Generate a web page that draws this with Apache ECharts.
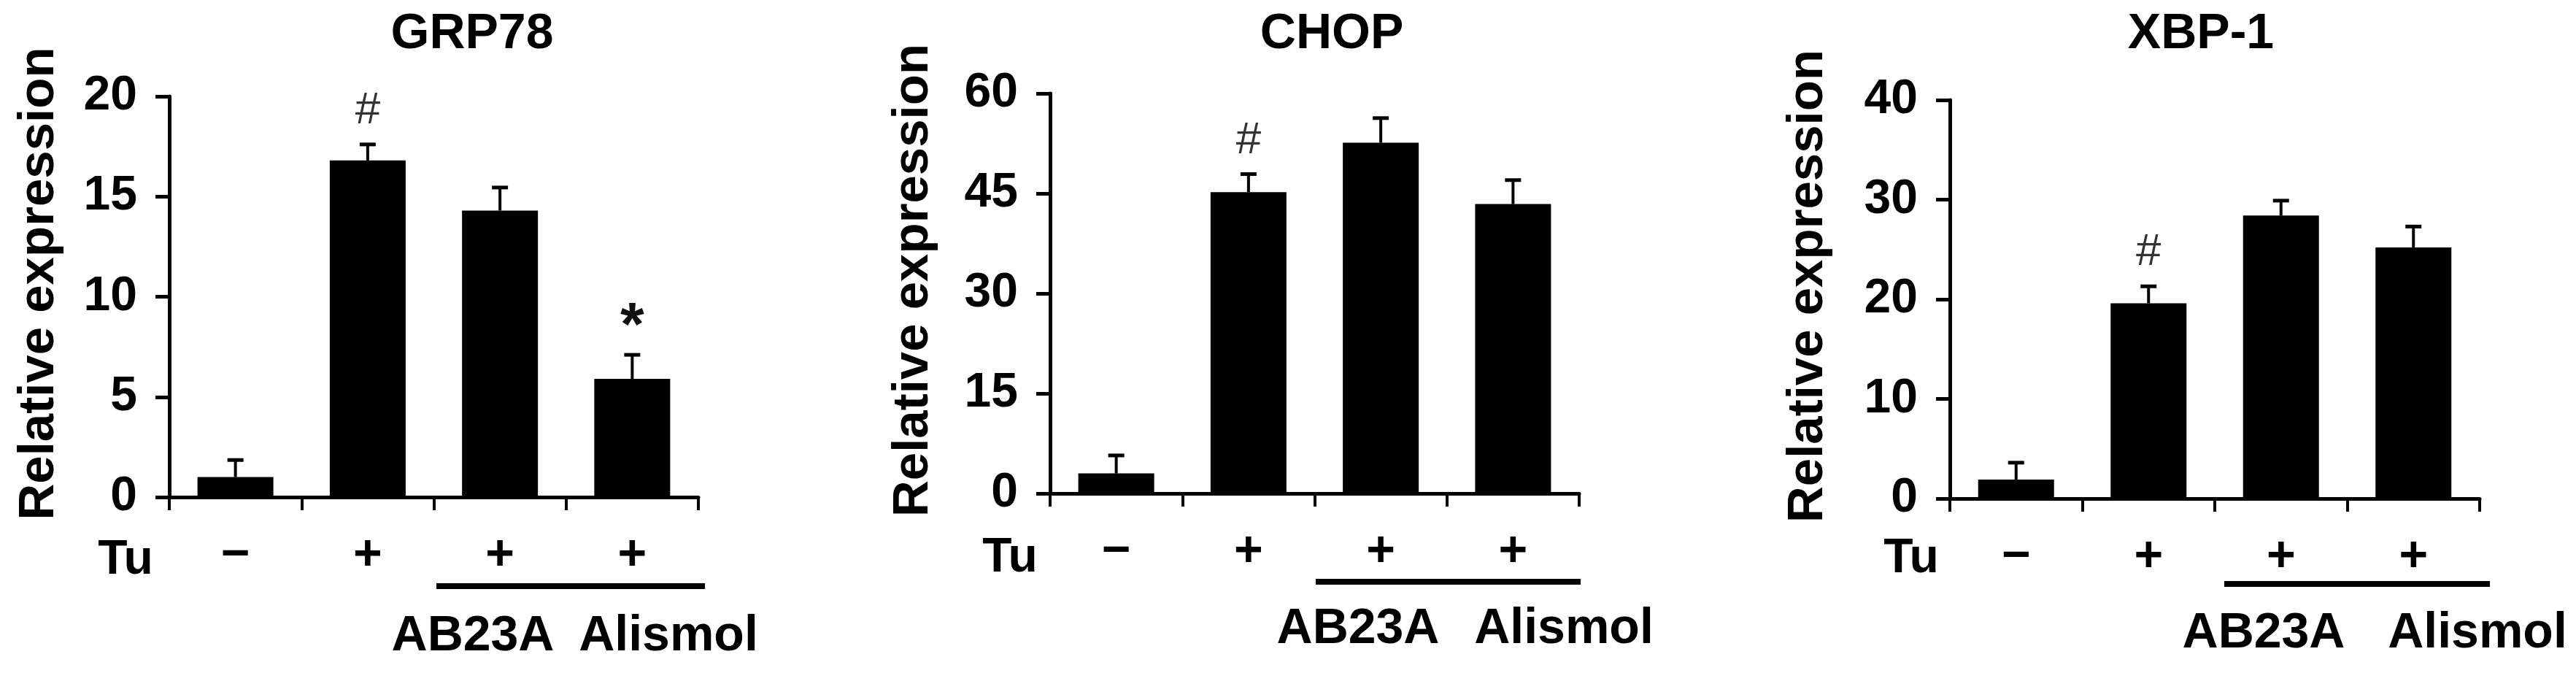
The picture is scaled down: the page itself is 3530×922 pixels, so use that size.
<!DOCTYPE html>
<html>
<head>
<meta charset="utf-8">
<script src="https://cdn.jsdelivr.net/npm/echarts@6/dist/echarts.min.js"></script>
<style>
  html, body { margin: 0; padding: 0; background: #fff; }
  #chart { width: 3530px; height: 922px; }
</style>
</head>
<body>
<div id="chart"></div>
<script>
// data
const panelTitles = ['GRP78', 'CHOP', 'XBP-1'];
const tuSigns = ['\u2212', '+', '+', '+'];
const groupLabels = ['AB23A', 'Alismol'];
const yMax = [20, 60, 40];
const yStep = [5, 15, 10];

const grp78Mean = [1.0, 16.8, 14.3, 5.9];
const grp78Err = [0.85, 0.8, 1.15, 1.2];
const grp78Marks = ['', '#', '', '*'];

const chopMean = [3.0, 45.2, 52.6, 43.4];
const chopErr = [2.7, 2.7, 3.7, 3.6];
const chopMarks = ['', '#', '', ''];

const xbpMean = [1.9, 19.6, 28.4, 25.2];
const xbpErr = [1.7, 1.7, 1.5, 2.1];
const xbpMarks = ['', '#', '', ''];

const means = [grp78Mean, chopMean, xbpMean];
const errs = [grp78Err, chopErr, xbpErr];
const marks = [grp78Marks, chopMarks, xbpMarks];

// layout (pixels)
const font = 'Liberation Sans, Arial, Helvetica, sans-serif';
const grids = [
  { left: 232, top: 132, width: 725, height: 549 },
  { left: 1439, top: 128, width: 725, height: 548 },
  { left: 2672, top: 137, width: 726, height: 546 }
];
const titleX = [647, 1825, 3016];
const nameGaps = [144, 153, 160];
const tuX = [172, 1384, 2619];
const tuY = [768, 765, 766];
const abX = [648, 1861, 3102];
const alX = [916, 2143, 3395];
const groupY = [872, 862, 868];
const ulX = [[598, 966], [1803, 2166], [3048, 3412]];
const ulY = [803, 797, 800];

let chart = echarts.init(document.getElementById('chart'), null, { renderer: 'canvas' });

function errSeries(i) {
  return {
    type: 'custom',
    xAxisIndex: i,
    yAxisIndex: i,
    z: 3,
    data: means[i].map((m, k) => [k, m, errs[i][k]]),
    renderItem: (params, api) => {
      const k = api.value(0), m = api.value(1), e = api.value(2);
      const base = api.coord([k, m]);
      const top = api.coord([k, m + e]);
      const children = [
        { type: 'line', shape: { x1: base[0], y1: base[1], x2: top[0], y2: top[1] }, style: { stroke: '#000', lineWidth: 4 } },
        { type: 'line', shape: { x1: top[0] - 11, y1: top[1], x2: top[0] + 11, y2: top[1] }, style: { stroke: '#000', lineWidth: 5 } }
      ];
      const mk = marks[i][params.dataIndex];
      if (mk === '#') {
        children.push({ type: 'text', x: top[0], y: top[1] - 46, style: { text: '#', fill: '#333', fontSize: 62, fontFamily: font, align: 'center', verticalAlign: 'middle' } });
      } else if (mk === '*') {
        children.push({ type: 'text', x: top[0], y: top[1] - 36, style: { text: '*', fill: '#111', fontSize: 84, fontWeight: 'bold', fontFamily: font, align: 'center', verticalAlign: 'middle' } });
      }
      return { type: 'group', children: children };
    }
  };
}

const graphic = [];
for (let i = 0; i < 3; i++) {
  graphic.push({ type: 'text', x: tuX[i], y: tuY[i], style: { text: 'Tu', fill: '#000', fontSize: 66, fontWeight: 'bold', fontFamily: font, align: 'center', verticalAlign: 'middle' } });
  graphic.push({ type: 'line', shape: { x1: ulX[i][0], y1: ulY[i], x2: ulX[i][1], y2: ulY[i] }, style: { stroke: '#000', lineWidth: 8 } });
  graphic.push({ type: 'text', x: abX[i], y: groupY[i], style: { text: groupLabels[0], fill: '#000', fontSize: 68, fontWeight: 'bold', fontFamily: font, align: 'center', verticalAlign: 'middle' } });
  graphic.push({ type: 'text', x: alX[i], y: groupY[i], style: { text: groupLabels[1], fill: '#000', fontSize: 68, fontWeight: 'bold', fontFamily: font, align: 'center', verticalAlign: 'middle' } });
}

chart.setOption({
  animation: false,
  backgroundColor: '#fff',
  title: panelTitles.map((t, i) => ({
    text: t,
    left: titleX[i],
    top: 13,
    textAlign: 'center',
    padding: 0,
    textStyle: { fontSize: 68, fontWeight: 'bold', color: '#000', fontFamily: font }
  })),
  grid: grids.map(g => Object.assign({ containLabel: false, outerBoundsMode: 'none' }, g)),
  xAxis: grids.map((g, i) => ({
    gridIndex: i,
    type: 'category',
    data: tuSigns,
    axisLine: { show: true, lineStyle: { color: '#000', width: 5 } },
    axisTick: { show: true, length: 18, lineStyle: { color: '#000', width: 4 } },
    axisLabel: { fontSize: 68, fontWeight: 'bold', color: '#000', fontFamily: font, margin: 46 }
  })),
  yAxis: grids.map((g, i) => ({
    gridIndex: i,
    type: 'value',
    min: 0,
    max: yMax[i],
    interval: yStep[i],
    name: 'Relative expression',
    nameLocation: 'middle',
    nameGap: nameGaps[i],
    nameTextStyle: { fontSize: 69, fontWeight: 'bold', color: '#000', fontFamily: font, padding: [0, 0, 0, 36] },
    axisLine: { show: true, lineStyle: { color: '#000', width: 5 } },
    axisTick: { show: true, length: 19, lineStyle: { color: '#000', width: 5 } },
    axisLabel: { fontSize: 66, fontWeight: 'bold', color: '#000', fontFamily: font, margin: 44 },
    splitLine: { show: false }
  })),
  series: [0, 1, 2].map(i => ({
    type: 'bar',
    xAxisIndex: i,
    yAxisIndex: i,
    data: means[i],
    barWidth: 104,
    itemStyle: { color: '#000' }
  })).concat([0, 1, 2].map(errSeries)),
  graphic: graphic
});
</script>
</body>
</html>
